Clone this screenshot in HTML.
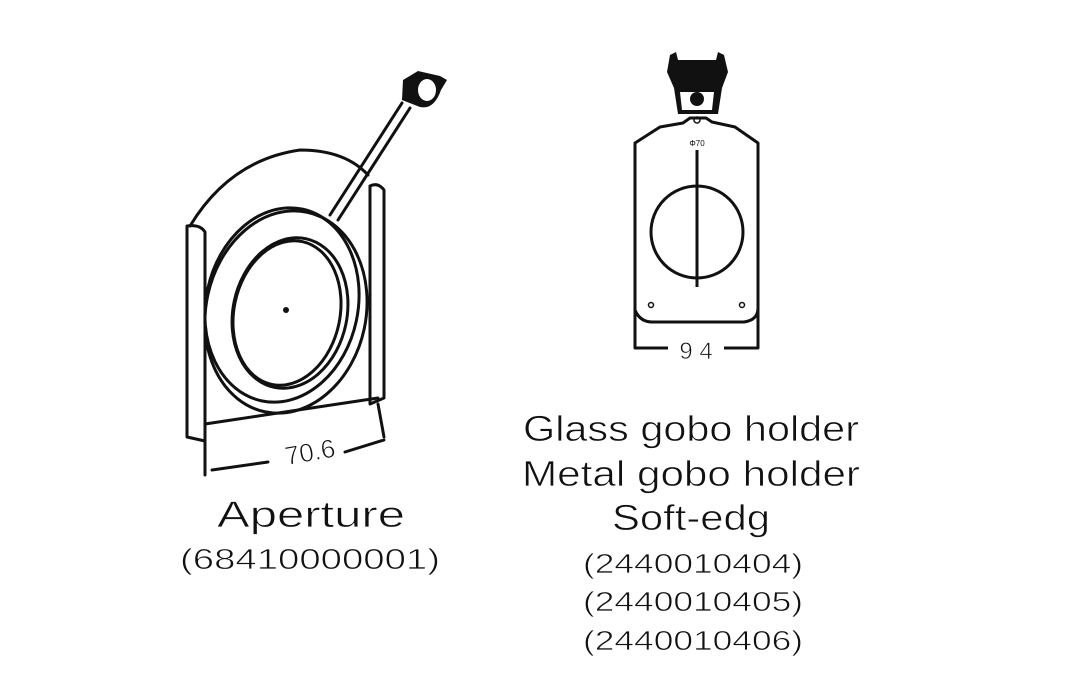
<!DOCTYPE html>
<html><head><style>
html,body{margin:0;padding:0;background:#fff;}
svg{display:block;}
text{font-family:"Liberation Sans",sans-serif;fill:#111;stroke:#fff;stroke-width:0.7;paint-order:normal;}
</style></head><body>
<svg width="1067" height="680" viewBox="0 0 1067 680" xmlns="http://www.w3.org/2000/svg">
<g fill="none" stroke="#111" stroke-width="3" stroke-linejoin="round" stroke-linecap="round">
 <path d="M190 226 Q230 160 300 150 Q345 150 368 175"/>
 <path d="M187 226 L187 437 L205 441 L205 232 Q200 224 187 226"/>
 <path d="M370 186 Q378 182 384 190 L384 398 L370 404 L370 186"/>
 <path d="M205 424 L378 398"/>
 <path d="M205 441 L205 475"/>
 <path d="M378 404 L384 437"/>
 <path d="M212 470 L268 462"/>
 <path d="M345 452 L384 440"/>
 <path d="M330 215 L402 103"/>
 <path d="M338 220 L410 108"/>
 <ellipse cx="286" cy="312" rx="80" ry="102" transform="rotate(12 286 312)"/>
 <ellipse cx="282" cy="305" rx="76" ry="98" transform="rotate(12 282 305)"/>
 <ellipse cx="290" cy="313" rx="57" ry="76" transform="rotate(12 290 313)"/>
 <ellipse cx="287" cy="313" rx="53" ry="73" transform="rotate(12 287 313)"/>
</g>
<circle cx="286" cy="310" r="3" fill="#111"/>
<path d="M403 80 L418 71 L440 76 L447 80 L441 90 Q434 110 420 107 L402 100 Z" fill="#111"/>
<ellipse cx="427" cy="90" rx="9" ry="11" fill="#fff"/>
<text x="310" y="461" font-size="26" transform="rotate(-10 310 452)" text-anchor="middle">70.6</text>

<g fill="none" stroke="#111" stroke-width="3" stroke-linejoin="round">
 <path d="M635 143 L635 310 Q640 322 652 322 L744 322 Q758 320 758 308 L758 143 L735 127 L712 122 L706 118 L690 118 L683 123 L660 127 Z"/>
 <circle cx="697" cy="232" r="46"/>
 <path d="M697 150 L697 287"/>
 <path d="M635 300 L635 348 L668 348"/>
 <path d="M758 300 L758 348 L724 348"/>
 <circle cx="651" cy="305" r="2.5" stroke-width="1.5"/>
 <circle cx="742" cy="305" r="2.5" stroke-width="1.5"/>
 <circle cx="697" cy="120" r="3" stroke-width="1.5"/>
</g>
<path d="M670 55 L676 52 L678 60 L716 60 L718 52 L724 55 L728 72 L722 88 L718 114 L678 114 L674 88 L667 72 Z" fill="#111"/>
<path d="M680 92 L714 92 L712 110 L682 110 Z" fill="#fff"/>
<circle cx="697" cy="99" r="7" fill="#111"/>
<text x="697" y="146" font-size="8" text-anchor="middle" style="stroke:none">Φ70</text>
<text x="696" y="359" font-size="24" text-anchor="middle">9 4</text>

<text x="311" y="527" font-size="37" text-anchor="middle" textLength="188" lengthAdjust="spacingAndGlyphs">Aperture</text>
<text x="310" y="569" font-size="29" text-anchor="middle" textLength="260" lengthAdjust="spacingAndGlyphs">(68410000001)</text>
<text x="691" y="441" font-size="36" text-anchor="middle" textLength="336" lengthAdjust="spacingAndGlyphs">Glass gobo holder</text>
<text x="691" y="486" font-size="36" text-anchor="middle" textLength="338" lengthAdjust="spacingAndGlyphs">Metal gobo holder</text>
<text x="691" y="530" font-size="36" text-anchor="middle" textLength="158" lengthAdjust="spacingAndGlyphs">Soft-edg</text>
<text x="693" y="573" font-size="28" text-anchor="middle" textLength="220" lengthAdjust="spacingAndGlyphs">(2440010404)</text>
<text x="693" y="611" font-size="28" text-anchor="middle" textLength="220" lengthAdjust="spacingAndGlyphs">(2440010405)</text>
<text x="693" y="650" font-size="28" text-anchor="middle" textLength="220" lengthAdjust="spacingAndGlyphs">(2440010406)</text>
</svg>
</body></html>
